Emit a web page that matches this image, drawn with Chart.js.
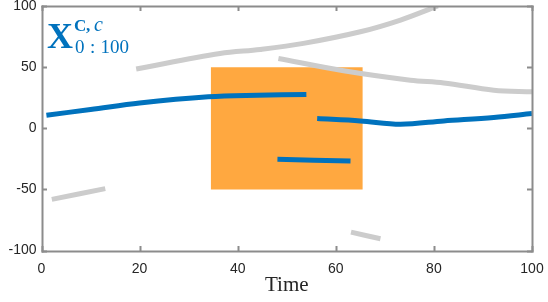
<!DOCTYPE html>
<html lang="en">
<head>
    <meta charset="UTF-8">
    <title>X C,c 0:100 over Time</title>
    <script src="https://cdn.jsdelivr.net/npm/chart.js"></script>
    <style>
        * { margin: 0; padding: 0; box-sizing: border-box; }
        body { background: #fff; width: 548px; height: 302px; overflow: hidden; }
        #wrap { position: relative; width: 548px; height: 302px; }
    </style>
</head>
<body>
    <div id="wrap"><canvas id="chart"></canvas></div>
    <script>
        // axis ticks
        const xTicks = [0, 20, 40, 60, 80, 100];
        const yTicks = [-100, -50, 0, 50, 100];

        // blue curves (time, value)
        const blueATime = [1, 10, 20, 34, 44, 54];
        const blueAValue = [10.7, 15.3, 20.7, 25.7, 27, 27.6];
        const blueBTime = [56.2, 65, 73.2, 82, 92.2, 100];
        const blueBValue = [7.9, 6, 3.3, 6, 8.8, 12];
        const blueCTime = [48.1, 63];
        const blueCValue = [-25.4, -26.8];

        // grey curves
        const greyATime = [19.3, 36.4, 44.6, 53.4, 65, 73.2, 80.8];
        const greyAValue = [48.5, 61.2, 64.5, 69.4, 78.9, 88.5, 100];
        const greyBTime = [48.3, 61.6, 75.2, 82, 92.2, 100];
        const greyBValue = [57.1, 47, 39.3, 37.1, 31.1, 29.8];
        const greyCTime = [2.1, 13];
        const greyCValue = [-58.2, -49.4];
        const greyDTime = [63.1, 69.1];
        const greyDValue = [-85, -90.4];

        // orange box
        const boxTime = [34.5, 65.5];
        const boxTop = [50, 50];
        const boxBottom = -50;

        const BLUE = '#0072BD';
        const GREY = '#CCCCCC';
        const ORANGE = '#FFA840';
        const AXIS = '#8c8c8c';
        const TEXT = '#262626';

        function pts(ts, vs) {
            return ts.map((t, i) => ({ x: t, y: vs[i] }));
        }

        function curve(ts, vs, color) {
            return {
                data: pts(ts, vs),
                borderColor: color,
                borderWidth: 5,
                pointRadius: 0,
                tension: 0.35,
                fill: false,
                order: 1
            };
        }

        // box axes with inward ticks, drawn as thin filled rects
        const frame = {
            id: 'frame',
            afterDraw(chart) {
                const ctx = chart.ctx;
                const a = chart.chartArea;
                const xs = chart.scales.x, ys = chart.scales.y;
                const L = Math.round(a.left), R = Math.round(a.right);
                const T = Math.round(a.top), B = Math.round(a.bottom);
                ctx.save();
                ctx.fillStyle = AXIS;
                ctx.fillRect(L - 0.5, T - 0.5, R - L + 2, 2);
                ctx.fillRect(L - 0.5, B - 0.5, R - L + 2, 2);
                ctx.fillRect(L - 0.5, T - 0.5, 2, B - T + 2);
                ctx.fillRect(R - 0.5, T - 0.5, 2, B - T + 2);
                xTicks.forEach(t => {
                    const px = Math.round(xs.getPixelForValue(t));
                    ctx.fillRect(px - 0.5, B - 5, 2, 5);
                    ctx.fillRect(px - 0.5, T, 2, 5);
                });
                yTicks.forEach(v => {
                    const py = Math.round(ys.getPixelForValue(v));
                    ctx.fillRect(L, py - 0.5, 5, 2);
                    ctx.fillRect(R - 5, py - 0.5, 5, 2);
                });

                // label in the top left corner
                ctx.fillStyle = BLUE;
                ctx.textBaseline = 'alphabetic';
                ctx.textAlign = 'left';
                ctx.font = 'bold 36px "Liberation Serif"';
                ctx.fillText('X', 47, 48);
                ctx.font = 'bold 17px "Liberation Serif"';
                ctx.fillText('C', 74, 31);
                ctx.fillText(',', 86, 31);
                ctx.font = 'italic 20px "Liberation Serif"';
                ctx.fillText('c', 94, 31);
                ctx.font = '19px "Liberation Serif"';
                ctx.fillText('0', 75, 53);
                ctx.fillText(':', 90, 53);
                ctx.fillText('100', 100.5, 53);
                ctx.restore();
            }
        };

        new Chart(document.getElementById('chart'), {
            type: 'line',
            data: {
                datasets: [
                    {
                        data: pts(boxTime, boxTop),
                        borderWidth: 0,
                        borderColor: ORANGE,
                        backgroundColor: ORANGE,
                        pointRadius: 0,
                        fill: { value: boxBottom },
                        order: 5
                    },
                    curve(greyATime, greyAValue, GREY),
                    curve(greyBTime, greyBValue, GREY),
                    curve(greyCTime, greyCValue, GREY),
                    curve(greyDTime, greyDValue, GREY),
                    curve(blueATime, blueAValue, BLUE),
                    curve(blueBTime, blueBValue, BLUE),
                    curve(blueCTime, blueCValue, BLUE)
                ]
            },
            options: {
                responsive: true,
                maintainAspectRatio: false,
                animation: false,
                layout: { padding: { top: 6, right: 16, left: 0, bottom: 0 } },
                plugins: { legend: { display: false }, tooltip: { enabled: false } },
                scales: {
                    x: {
                        type: 'linear',
                        min: 0, max: 100,
                        afterBuildTicks: s => { s.ticks = xTicks.map(v => ({ value: v })); },
                        afterFit: s => { s.height = 51.5; s.paddingLeft = 0; s.paddingRight = 0; },
                        grid: { display: false, drawTicks: false },
                        border: { display: false },
                        ticks: { color: TEXT, padding: 10, maxRotation: 0, font: { family: '"Liberation Sans", Arial', size: 14 } },
                        title: {
                            display: true,
                            text: 'Time',
                            color: TEXT,
                            padding: { top: 0, bottom: 4 },
                            font: { family: '"Liberation Serif"', size: 21 }
                        }
                    },
                    y: {
                        min: -100, max: 100,
                        afterBuildTicks: s => { s.ticks = yTicks.map(v => ({ value: v })); },
                        afterFit: s => { s.width = 41.5; s.paddingTop = 0; s.paddingBottom = 0; },
                        grid: { display: false, drawTicks: false },
                        border: { display: false },
                        ticks: { color: TEXT, padding: 5, font: { family: '"Liberation Sans", Arial', size: 14 } }
                    }
                }
            },
            plugins: [frame]
        });
    </script>
</body>
</html>
